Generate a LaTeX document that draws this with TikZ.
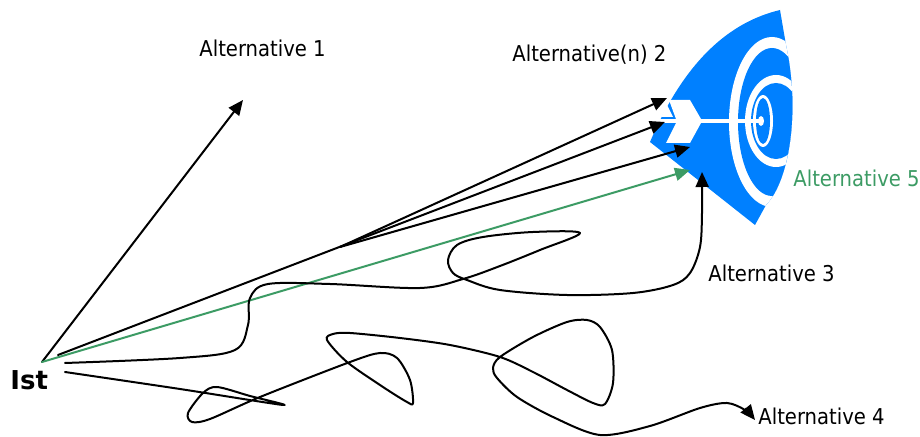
\documentclass[tikz,border=0pt]{standalone}
\usepackage{fontspec}
\setmainfont{DejaVu Sans Condensed}
\newfontfamily\istfont{DejaVu Sans}
\usetikzlibrary{arrows.meta}
\definecolor{targetblue}{RGB}{0,128,255}
\definecolor{altgreen}{RGB}{60,155,100}

\begin{document}
\begin{tikzpicture}[line cap=round,line join=round,>={Triangle[length=7.5pt,width=6.5pt]},x=0.5pt,y=-0.5pt,
	way/.style={->,line width=1pt},
	lbl/.style={anchor=base west,inner sep=0pt,font=\fontsize{10.9}{13}\selectfont}]
	\useasboundingbox (0,0) rectangle (920,437);
	% Zielscheibe, Ringe rechts offen
	\begin{scope}
		\clip (780,10) .. controls (730,22) and (685,60) .. (650,142) -- (755,225) -- (766,205) .. controls (790,180) and (800,110) .. (786,45) -- cycle;
		\fill[targetblue] (640,0) rectangle (800,230);
		\fill[white] (772,122) ellipse [x radius=43,y radius=85];
		\fill[targetblue] (772,122) ellipse [x radius=34,y radius=74];
		\fill[white] (776,121) ellipse [x radius=31,y radius=46];
		\fill[targetblue] (776,121) ellipse [x radius=25,y radius=38];
		\fill[white] (763,121) ellipse [x radius=10,y radius=26];
		\fill[targetblue] (763,121) ellipse [x radius=7,y radius=23];
		\fill[white] (761,121) ellipse [x radius=3,y radius=5];
	\end{scope}
	\draw[white,line width=2pt,line cap=butt] (658,121) -- (761,121);
	\fill[white] (669,100) -- (690,100) -- (701,119) -- (676,119) -- cycle;
	\fill[white] (661,117) -- (667,105) -- (673,117) -- cycle;
	\fill[white] (666,143) -- (676,123) -- (701,123) -- (690,143) -- cycle;

	\node[lbl,font=\istfont\bfseries\fontsize{13}{15}\selectfont] (ist) at (10,390) {Ist};
	\node[lbl] (alt1) at (199,57) {Alternative 1};
	\node[lbl] (alt2) at (512,62) {Alternative(n) 2};
	\node[lbl,text=altgreen] (alt5) at (793,187) {Alternative 5};
	\node[lbl] (alt3) at (708,282) {Alternative 3};
	\node[lbl] (alt4) at (758,425) {Alternative 4};

	\coordinate (o) at (42,362);
	\coordinate (s2) at (58,355);
	\coordinate (fan) at (340,247);
	\coordinate (s3) at (65,363);
	\coordinate (s4) at (65,372);
	\coordinate (t1) at (243,100);
	\coordinate (t2a) at (667,98);
	\coordinate (t2b) at (665,122);
	\coordinate (t2c) at (690,147);
	\coordinate (t3) at (702,172);
	\coordinate (t4) at (755,420);
	\coordinate (t5) at (690,170);

	\draw[way] (o) -- (t1);
	\draw[way] (s2) -- (t2b);
	\draw[way] (fan) -- (t2a);
	\draw[way] (fan) -- (t2c);
	\draw[way,altgreen] (o) -- (t5);
	\draw[way] plot[smooth,tension=0.55] coordinates {(s3) (180,358) (235,350) (248,325) (250,298) (268,284) (330,284) (420,288) (463,279) (500,266) (540,250) (580,233) (533,232) (483,237) (457,245) (448,260) (453,273) (467,280) (500,290) (567,295) (633,293) (673,285) (690,273) (700,247) (702,213) (t3)};
	\draw[way] plot[smooth,tension=0.5] coordinates {(s4) (180,389) (283,405) (250,396) (217,387) (203,393) (188,413) (192,422) (210,419) (260,397) (350,362) (380,353) (397,358) (410,380) (413,403) (407,402) (383,387) (347,362) (327,340) (333,334) (350,333) (400,338) (450,345) (500,357) (533,372) (567,390) (593,403) (605,404) (613,383) (612,350) (600,327) (587,320) (567,322) (533,337) (500,357) (493,368) (497,378) (517,397) (553,417) (600,435) (650,426) (700,408) (727,403) (745,410) (t4)};
\end{tikzpicture}
\end{document}
